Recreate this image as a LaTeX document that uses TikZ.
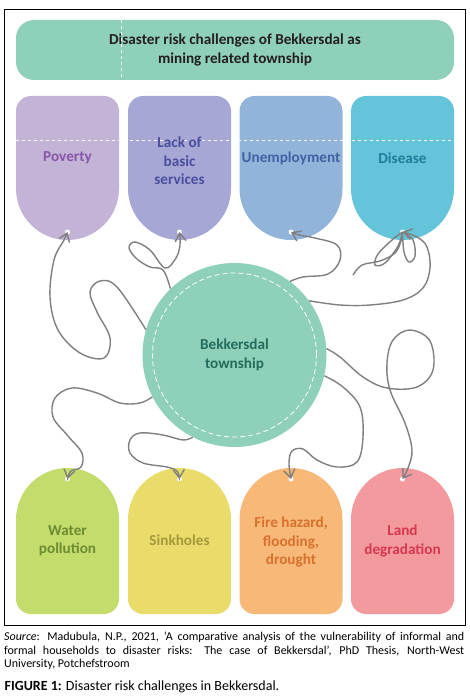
\documentclass[tikz,border=0pt]{standalone}
\usepackage{fontspec}
\setmainfont{Carlito}
\usepackage{tikz}
\usetikzlibrary{arrows.meta}
\definecolor{mint}{HTML}{8FD0BA}
\definecolor{strgray}{HTML}{7F7F7F}
\definecolor{povfill}{HTML}{C3B3D7}
\definecolor{lackfill}{HTML}{A6A7D5}
\definecolor{unempfill}{HTML}{93B4DA}
\definecolor{disfill}{HTML}{64C4DA}
\definecolor{waterfill}{HTML}{C3DC6B}
\definecolor{sinkfill}{HTML}{E9DC6A}
\definecolor{firefill}{HTML}{F8B878}
\definecolor{landfill}{HTML}{F29A9D}
\definecolor{povtext}{HTML}{8756A6}
\definecolor{lacktext}{HTML}{4A4E9E}
\definecolor{unemptext}{HTML}{3E62A2}
\definecolor{distext}{HTML}{1F7E99}
\definecolor{watertext}{HTML}{6C8C33}
\definecolor{sinktext}{HTML}{A6983A}
\definecolor{firetext}{HTML}{D8712E}
\definecolor{landtext}{HTML}{D6384F}
\definecolor{towntext}{HTML}{236B5A}
\definecolor{titletext}{HTML}{231F20}

\begin{document}
\begin{tikzpicture}[x=1pt,y=1pt,
		lbl/.style={font=\bfseries\fontsize{15.2}{18.5}\selectfont, align=center},
		string/.style={strgray, line width=1.4pt, -{Straight Barb[length=8pt,width=11pt]}},
		loose/.style={strgray, line width=1.4pt}]
				\useasboundingbox (0,0) rectangle (470,-698);
				\draw[black, line width=0.8] (4.5,-9.5) rectangle (465.5,-625);
				\node[fill=mint, rounded corners=18, minimum width=438, minimum height=60, lbl, text=titletext] (title) at (235,-50) {Disaster risk challenges of Bekkersdal as\\mining related township};
				\draw[white, dashed] (121,-20) -- (121,-80);
				\foreach \x/\c in {16/povfill,128/lackfill,239.5/unempfill,351/disfill}
					\fill[\c] (\x,-188.5) -- (\x,-111) arc[start angle=180,end angle=90,radius=15] -- (\x+88,-96) arc[start angle=90,end angle=0,radius=15] -- (\x+103,-188.5) arc[start angle=0,end angle=-180,radius=51.5] -- cycle;
				\foreach \x/\c in {16/waterfill,128/sinkfill,239.5/firefill,351/landfill}
					\fill[\c] (\x,-519.5) arc[start angle=180,end angle=0,radius=51.5] -- (\x+103,-599) arc[start angle=0,end angle=-90,radius=15] -- (\x+15,-614) arc[start angle=270,end angle=180,radius=15] -- cycle;
				\draw[white, dashed] (16,-140) -- (454,-140);
				\node[lbl, text=povtext] (pov) at (67.5,-158) {Poverty};
				\node[lbl, text=lacktext] (lack) at (179.5,-161) {Lack of\\basic\\services};
				\node[lbl, text=unemptext] (unemp) at (291,-158) {Unemployment};
				\node[lbl, text=distext] (dis) at (402.5,-158) {Disease};
				\node[lbl, text=watertext] (water) at (67.5,-541) {Water\\pollution};
				\node[lbl, text=sinktext] (sink) at (179.5,-540) {Sinkholes};
				\node[lbl, text=firetext] (fire) at (291,-542) {Fire hazard,\\flooding,\\drought};
				\node[lbl, text=landtext] (land) at (402.5,-541) {Land\\degradation};
				\coordinate (hpov) at (67.5,-232);
				\coordinate (hlack) at (179.5,-232);
				\coordinate (hunemp) at (291,-232);
				\coordinate (hdis) at (402.5,-232);
				\coordinate (hwater) at (67.5,-479);
				\coordinate (hsink) at (179.5,-479);
				\coordinate (hfire) at (291,-479);
				\coordinate (hland) at (402.5,-479);
				\coordinate (distail) at (353,-275);
				\foreach \h in {hpov,hlack,hunemp,hdis,hwater,hsink,hfire,hland}
					\fill[white] (\h) circle (2.5);
				\node[circle, fill=mint, minimum size=184, lbl, text=towntext] (town) at (234.5,-355) {Bekkersdal\\township};
				\draw[white, dash pattern=on 5pt off 3pt, line width=0.8] (town.center) circle (82);
				\draw[string] plot[smooth, tension=0.6] coordinates {(town.164) (117,-287) (100,-281) (90,-292) (97,-312) (110,-338) (104,-358) (80,-353) (58,-330) (50,-297) (54,-260) (64,-240) (hpov)};
				\draw[string] plot[smooth, tension=0.6] coordinates {(town.134) (163,-270) (150,-267) (137,-259) (129,-248) (135,-242) (150,-250) (165,-268) (176,-258) (180,-245) (hlack)};
				\draw[string] plot[smooth, tension=0.6] coordinates {(town.53.5) (303,-277) (328,-274) (340,-260) (337,-245) (315,-238) (299,-235) (hunemp)};
				\draw[string] plot[smooth, tension=0.6] coordinates {(town.36) (340,-305) (370,-305) (403,-300) (423,-288) (430,-268) (427,-247) (417,-237) (hdis)};
				\draw[loose] plot[smooth, tension=0.6] coordinates {(distail) (362,-265) (380,-261) (395,-253) (401,-241) (hdis)};
				\draw[loose] plot[smooth, tension=0.6] coordinates {(hdis) (392,-240) (378,-254) (375,-265) (385,-263) (398,-246) (hdis)};
				\draw[loose] plot[smooth, tension=0.6] coordinates {(hdis) (404,-252) (409,-262) (415,-256) (413,-240) (hdis)};
				\draw[string] plot[smooth, tension=0.6] coordinates {(town.207.5) (140,-403) (120,-403) (97,-393) (72,-388) (55,-398) (53,-417) (68,-436) (82,-453) (81,-467) (71,-471) (hwater)};
				\draw[string] plot[smooth, tension=0.6] coordinates {(town.243) (183,-440) (163,-435) (140,-433) (130,-440) (130,-453) (143,-463) (167,-467) (177,-471) (hsink)};
				\draw[string] plot[smooth, tension=0.6] coordinates {(town.-13.4) (343,-387) (360,-407) (363,-437) (357,-462) (337,-467) (317,-460) (303,-449) (292,-451) (289,-463) (hfire)};
				\draw[string] plot[smooth, tension=0.6] coordinates {(town.4) (340,-357) (363,-377) (387,-388) (417,-387) (433,-370) (430,-341) (410,-330) (393,-340) (387,-363) (390,-390) (405,-423) (412,-450) (408,-468) (hland)};
				\node[anchor=north west, text width=460pt, align=justify, inner sep=0, font=\fontsize{12}{13.3}\selectfont] (src) at (4,-632) {\hyphenpenalty=10000\exhyphenpenalty=10000\textit{Source}: Madubula, N.P., 2021, ‘A comparative analysis of the vulnerability of informal and\linebreak formal households to disaster risks: The case of Bekkersdal’, PhD Thesis, North-West\linebreak University, Potchefstroom};
				\node[anchor=west, inner sep=0, font=\fontsize{14}{16}\selectfont] (fig) at (4.5,-686.5) {\textbf{FIGURE 1:} Disaster risk challenges in Bekkersdal.};
			\end{tikzpicture}
\end{document}
